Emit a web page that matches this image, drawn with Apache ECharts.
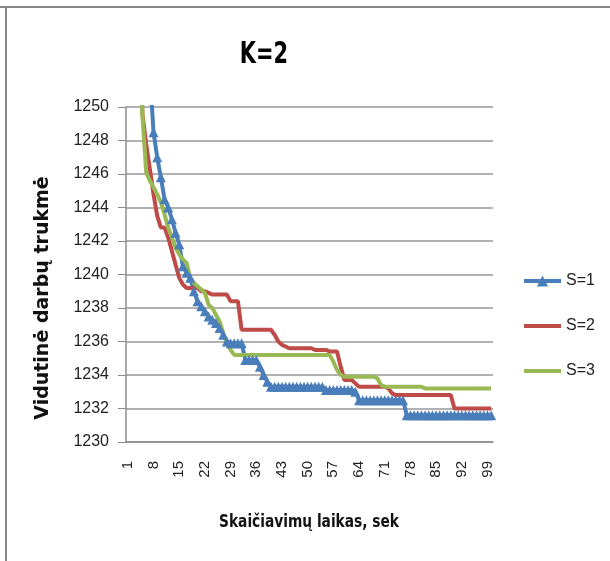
<!DOCTYPE html>
<html>
<head>
<meta charset="utf-8">
<script src="https://cdn.jsdelivr.net/npm/echarts@6/dist/echarts.min.js"></script>
<style>
  html, body { margin: 0; padding: 0; background: #fff; }
  #chart { width: 610px; height: 561px; }
</style>
</head>
<body>
<div id="chart"></div>
<script>
// x ašis: 1..100
var categories = [];
for (var i = 1; i <= 100; i++) categories.push(String(i));

var yTicks = [1230, 1250, 2]; // min, max, interval
var seriesNames = ['S=1', 'S=2', 'S=3'];

// S=1
var s1 = [
  1290, 1280, 1272, 1265, 1260, 1256, 1252, 1248.5, 1247.0, 1245.8,
  1244.5, 1244.0, 1243.3, 1242.5, 1241.8, 1240.5, 1240.1, 1239.8, 1239.0, 1238.4,
  1238.1, 1237.8, 1237.5, 1237.3, 1237.1, 1236.8, 1236.4, 1236.0, 1235.9, 1235.9,
  1235.9, 1235.9, 1234.9, 1234.9, 1234.9, 1234.9, 1234.5, 1234.0, 1233.6, 1233.3,
  1233.3, 1233.3, 1233.3, 1233.3, 1233.3, 1233.3, 1233.3, 1233.3, 1233.3, 1233.3,
  1233.3, 1233.3, 1233.3, 1233.3, 1233.1, 1233.1, 1233.1, 1233.1, 1233.1, 1233.1,
  1233.1, 1233.1, 1233.0, 1232.5, 1232.5, 1232.5, 1232.5, 1232.5, 1232.5, 1232.5,
  1232.5, 1232.5, 1232.5, 1232.5, 1232.5, 1232.5, 1231.6, 1231.6, 1231.6, 1231.6,
  1231.6, 1231.6, 1231.6, 1231.6, 1231.6, 1231.6, 1231.6, 1231.6, 1231.6, 1231.6,
  1231.6, 1231.6, 1231.6, 1231.6, 1231.6, 1231.6, 1231.6, 1231.6, 1231.6, 1231.6
];
// S=2
var s2 = [
  1290, 1278, 1268, 1256, 1249.5, 1247.8, 1246.3, 1244.8, 1243.5, 1242.8,
  1242.8, 1242.2, 1241.4, 1240.6, 1239.8, 1239.4, 1239.2, 1239.2, 1239.2, 1239.2,
  1239.0, 1239.0, 1238.9, 1238.8, 1238.8, 1238.8, 1238.8, 1238.8, 1238.4, 1238.4,
  1238.4, 1236.7, 1236.7, 1236.7, 1236.7, 1236.7, 1236.7, 1236.7, 1236.7, 1236.7,
  1236.4, 1236.0, 1235.8, 1235.7, 1235.6, 1235.6, 1235.6, 1235.6, 1235.6, 1235.6,
  1235.6, 1235.5, 1235.5, 1235.5, 1235.5, 1235.4, 1235.4, 1235.4, 1234.5, 1233.7,
  1233.7, 1233.7, 1233.5, 1233.3, 1233.3, 1233.3, 1233.3, 1233.3, 1233.3, 1233.3,
  1233.3, 1233.2, 1232.9, 1232.8, 1232.8, 1232.8, 1232.8, 1232.8, 1232.8, 1232.8,
  1232.8, 1232.8, 1232.8, 1232.8, 1232.8, 1232.8, 1232.8, 1232.8, 1232.8, 1232.0,
  1232.0, 1232.0, 1232.0, 1232.0, 1232.0, 1232.0, 1232.0, 1232.0, 1232.0, 1232.0
];
// S=3
var s3 = [
  1290, 1276, 1265, 1256, 1249.4, 1246.1, 1245.6, 1245.2, 1244.8, 1244.3,
  1243.6, 1242.8, 1242.2, 1241.6, 1241.2, 1240.9, 1240.7, 1239.8, 1239.5, 1239.3,
  1239.1, 1238.9, 1238.2, 1238.0, 1237.6, 1237.2, 1236.5, 1235.9, 1235.5, 1235.2,
  1235.2, 1235.2, 1235.2, 1235.2, 1235.2, 1235.2, 1235.2, 1235.2, 1235.2, 1235.2,
  1235.2, 1235.2, 1235.2, 1235.2, 1235.2, 1235.2, 1235.2, 1235.2, 1235.2, 1235.2,
  1235.2, 1235.2, 1235.2, 1235.2, 1235.2, 1235.2, 1234.8, 1234.3, 1234.0, 1233.9,
  1233.9, 1233.9, 1233.9, 1233.9, 1233.9, 1233.9, 1233.9, 1233.9, 1233.8, 1233.4,
  1233.3, 1233.3, 1233.3, 1233.3, 1233.3, 1233.3, 1233.3, 1233.3, 1233.3, 1233.3,
  1233.3, 1233.2, 1233.2, 1233.2, 1233.2, 1233.2, 1233.2, 1233.2, 1233.2, 1233.2,
  1233.2, 1233.2, 1233.2, 1233.2, 1233.2, 1233.2, 1233.2, 1233.2, 1233.2, 1233.2
];

var chart = echarts.init(document.getElementById('chart'));
var gray = '#8c8c8c';
var labelFont = 'Liberation Sans, Arial, sans-serif';
var titleFont = 'DejaVu Sans Condensed, DejaVu Sans, sans-serif';

var option = {
  backgroundColor: '#ffffff',
  animation: false,
  legend: {
    orient: 'vertical',
    left: 522,
    top: 273,
    padding: 0,
    itemWidth: 37,
    itemHeight: 14,
    itemGap: 29,
    lineStyle: { width: 4 },
    data: [
      { name: seriesNames[0] },
      // be simbolio, tik linija
      { name: seriesNames[1], itemStyle: { opacity: 0 } },
      { name: seriesNames[2], itemStyle: { opacity: 0 } }
    ],
    textStyle: { fontFamily: labelFont, fontSize: 16, color: '#222' }
  },
  grid: { left: 126, right: 117, top: 107, bottom: 119 },
  xAxis: {
    type: 'category',
    data: categories,
    boundaryGap: true,
    axisLine: { lineStyle: { color: gray, width: 1.5 } },
    axisTick: { interval: 0, length: 6, lineStyle: { color: gray } },
    axisLabel: {
      interval: 6,
      rotate: 90,
      margin: 19,
      fontFamily: labelFont,
      fontSize: 15,
      color: '#222'
    }
  },
  yAxis: {
    type: 'value',
    min: yTicks[0],
    max: yTicks[1],
    interval: yTicks[2],
    axisLine: { show: true, lineStyle: { color: gray, width: 1.5 } },
    axisTick: { show: true, length: 8, lineStyle: { color: gray } },
    axisLabel: {
      margin: 17,
      fontFamily: labelFont,
      fontSize: 16,
      color: '#222',
      formatter: function (v) { return String(v); }
    },
    splitLine: { lineStyle: { color: '#999', width: 1.5 } }
  },
  series: [
    {
      name: seriesNames[0],
      type: 'line',
      data: s1,
      symbol: 'triangle',
      symbolSize: 10,
      showAllSymbol: true,
      itemStyle: { color: '#4a7ebb' },
      lineStyle: { color: '#4a7ebb', width: 4 }
    },
    {
      name: seriesNames[1],
      type: 'line',
      data: s2,
      symbol: 'none',
      itemStyle: { color: '#be4b48' },
      lineStyle: { color: '#be4b48', width: 4 }
    },
    {
      name: seriesNames[2],
      type: 'line',
      data: s3,
      symbol: 'none',
      itemStyle: { color: '#98b954' },
      lineStyle: { color: '#98b954', width: 4 }
    }
  ],
  graphic: [
    // rėmelis
    { type: 'line', shape: { x1: 0, y1: 7, x2: 610, y2: 7 }, style: { stroke: '#888', lineWidth: 2 } },
    { type: 'line', shape: { x1: 6, y1: 7, x2: 6, y2: 561 }, style: { stroke: '#888', lineWidth: 2 } },
    // antraštė
    {
      type: 'text',
      x: 264,
      y: 55,
      scaleX: 0.75,
      style: {
        text: 'K=2',
        fontFamily: titleFont,
        fontSize: 31,
        fontWeight: 'bold',
        fill: '#000',
        align: 'center',
        verticalAlign: 'middle'
      }
    },
    // ašių pavadinimai
    {
      type: 'text',
      x: 43,
      y: 298,
      rotation: Math.PI / 2,
      style: {
        text: 'Vidutinė darbų trukmė',
        fontFamily: 'DejaVu Sans, sans-serif',
        fontSize: 19,
        fontWeight: 'bold',
        fill: '#111',
        align: 'center',
        verticalAlign: 'middle'
      }
    },
    {
      type: 'text',
      x: 309,
      y: 523,
      scaleX: 0.9,
      style: {
        text: 'Skaičiavimų laikas, sek',
        fontFamily: titleFont,
        fontSize: 17,
        fontWeight: 'bold',
        fill: '#111',
        align: 'center',
        verticalAlign: 'middle'
      }
    }
  ]
};

chart.setOption(option);
</script>
</body>
</html>
